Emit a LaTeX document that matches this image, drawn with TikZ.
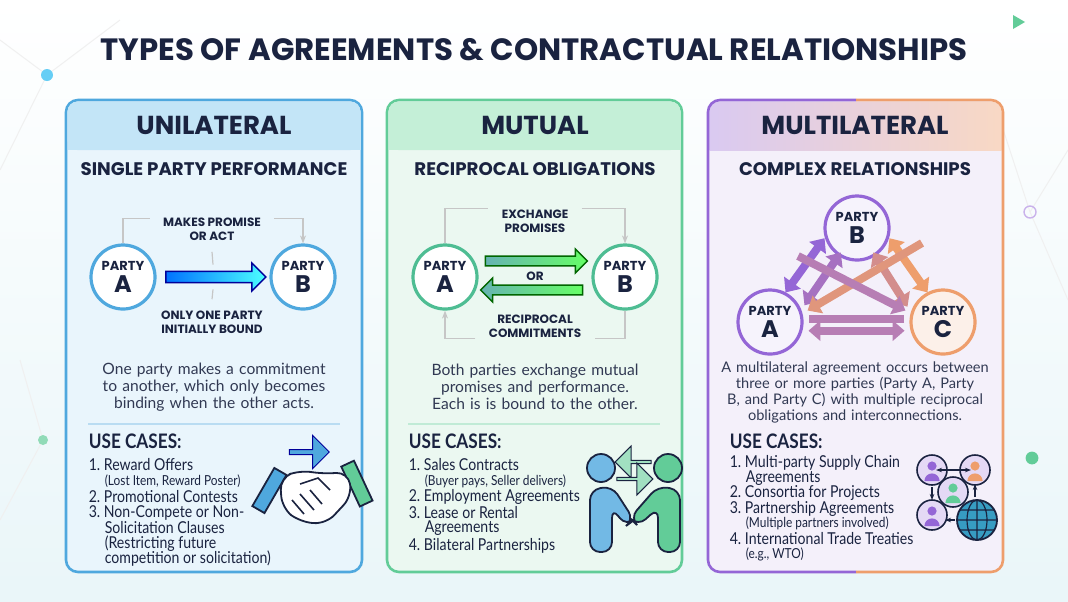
\documentclass[tikz,border=0pt]{standalone}
\usepackage{fontspec}
\setmainfont{Lato}
\newfontfamily\headfont{Poppins}
\newfontfamily\condfont{Lato}[FakeStretch=0.86]
\usetikzlibrary{positioning, calc, shapes.arrows, arrows.meta}

\definecolor{navy}{HTML}{1A2340}
\definecolor{ublue}{HTML}{4FA8DE}
\definecolor{ufill}{HTML}{E9F5FC}
\definecolor{uhead}{HTML}{C3E5F7}
\definecolor{mgreen}{HTML}{62CC98}
\definecolor{mfill}{HTML}{EBF8F1}
\definecolor{mhead}{HTML}{C4EFD7}
\definecolor{lpurp}{HTML}{9466D6}
\definecolor{lorng}{HTML}{EE9E6C}
\definecolor{lfill}{HTML}{F4F0FA}
\definecolor{lmix}{HTML}{B77EB4}

\begin{document}
\begin{tikzpicture}[x=0.5pt, y=-0.5pt, thick]
            % Define styles
            \tikzstyle{party} = [circle, line width=1.6pt, minimum size=32pt, inner sep=0pt, align=center, text=navy, font=\headfont\bfseries]
            \tikzstyle{lbl} = [align=center, text=navy, font=\headfont\bfseries\fontsize{6}{7}\selectfont]
            \tikzstyle{link} = [draw=gray!45, line width=0.6pt]
            \tikzstyle{desc} = [align=center, text=navy!90, text width=134pt, execute at begin node={\hyphenpenalty=10000}, font=\fontsize{7.8}{8.6}\selectfont]
            \tikzstyle{it} = [anchor=west, inner sep=0pt, text=navy, font=\condfont\fontsize{8.2}{8}\selectfont]
            \tikzstyle{sub} = [anchor=west, inner sep=0pt, text=navy, font=\condfont\fontsize{6.9}{7}\selectfont]
            \tikzstyle{uses} = [anchor=west, inner sep=0pt, text=navy, font=\condfont\bfseries\fontsize{10}{10}\selectfont]
            \tikzstyle{head} = [text=navy, font=\headfont\bfseries\fontsize{13}{13}\selectfont]
            \tikzstyle{subhead} = [text=navy, font=\headfont\bfseries\fontsize{9.1}{10}\selectfont]
            \tikzstyle{fat} = [line width=4pt, {Triangle[length=6pt,width=10pt]}-{Triangle[length=6pt,width=10pt]}]

            % Background
            \useasboundingbox (0,0) rectangle (1068,601);
            \fill[top color=white, bottom color=ufill!70!mfill] (0,0) rectangle (1068,601);
            \draw[gray!12, line width=0.5pt] (0,170) -- (47,75) -- (120,20) (47,75) -- (0,40) (1068,150) -- (1030,212) -- (1068,300) (1030,212) -- (1000,120) (43,440) -- (0,520) (43,440) -- (20,360);
            \fill[cyan!60] (47,75) circle (3pt);
            \fill[mgreen] (1032,458) circle (3.2pt);
            \fill[mgreen!70] (43,440) circle (2.5pt);
            \draw[lpurp!50, line width=0.7pt] (1030,212) circle (3pt);
            \fill[mgreen] (1013,15) -- (1025,22) -- (1013,29) -- cycle;

            % Title
            \node[text=navy, font=\headfont\bfseries\fontsize{15.4}{16}\selectfont] (title) at (534,50) {TYPES OF AGREEMENTS \& CONTRACTUAL RELATIONSHIPS};

            % Panels
            \fill[ufill, draw=ublue, line width=1.3pt, rounded corners=6pt] (66,100) rectangle (362,572);
            \fill[uhead, rounded corners=5pt] (67.5,101.5) rectangle (360.5,150);
            \fill[uhead] (67.5,130) rectangle (360.5,150);
            \fill[mfill, draw=mgreen, line width=1.3pt, rounded corners=6pt] (387,100) rectangle (682,572);
            \fill[mhead, rounded corners=5pt] (388.5,101.5) rectangle (680.5,150);
            \fill[mhead] (388.5,130) rectangle (680.5,150);
            \fill[lfill, rounded corners=6pt] (708,100) rectangle (1003,572);
            \shade[left color=lpurp!35, right color=lorng!40, rounded corners=5pt] (709.5,101.5) rectangle (1001.5,150);
            \shade[left color=lpurp!35, right color=lorng!40] (709.5,130) rectangle (1001.5,150);
            \draw[line width=1.3pt, lpurp, rounded corners=6pt] (856,572) -| (708,100) -- (856,100);
            \draw[line width=1.3pt, lorng, rounded corners=6pt] (856,100) -| (1003,572) -- (856,572);
            \draw[ublue!40, line width=0.6pt] (88,424) -- (340,424);
            \draw[mgreen!40, line width=0.6pt] (408,424) -- (660,424);

            % Headings
            \node[head] (h1) at (214,125) {UNILATERAL};
            \node[head] (h2) at (535,125) {MUTUAL};
            \node[head] (h3) at (855,125) {MULTILATERAL};
            \node[subhead] (s1) at (214,169) {SINGLE PARTY PERFORMANCE};
            \node[subhead] (s2) at (535,169) {RECIPROCAL OBLIGATIONS};
            \node[subhead] (s3) at (855,169) {COMPLEX RELATIONSHIPS};

            % Unilateral diagram
            \node[party, draw=ublue, fill=white] (ua) at (123,277) {\fontsize{6.5}{7}\selectfont PARTY\\[-1pt]\fontsize{12}{12}\selectfont A};
            \node[party, draw=ublue, fill=white] (ub) at (303,277) {\fontsize{6.5}{7}\selectfont PARTY\\[-1pt]\fontsize{12}{12}\selectfont B};
            \node[single arrow, draw=blue!60!black, line width=0.7pt, left color=blue!55!cyan, right color=cyan!70, minimum width=14pt, single arrow head extend=2pt, minimum height=50pt, inner sep=1pt] (uarr) at (213,277) {};
            \node[lbl] (umk) at (212,229) {MAKES PROMISE\\OR ACT};
            \node[lbl] (uon) at (212,322) {ONLY ONE PARTY\\INITIALLY BOUND};
            \draw[link] (ua.north) |- ([xshift=-3pt,yshift=-4pt]umk.north west);
            \draw[link, -{Stealth[length=4pt]}] ([xshift=3pt,yshift=-4pt]umk.north east) -| (ub.north);
            \draw[link] ([yshift=-2pt]umk.south) -- ([yshift=3pt]uarr.north);
            \draw[link] ([yshift=-3pt]uarr.south) -- ([yshift=2pt]uon.north);

            % Mutual diagram
            \node[party, draw=mgreen!80!teal, fill=white] (ma) at (445,277) {\fontsize{6.5}{7}\selectfont PARTY\\[-1pt]\fontsize{12}{12}\selectfont A};
            \node[party, draw=mgreen!80!teal, fill=white] (mb) at (625,277) {\fontsize{6.5}{7}\selectfont PARTY\\[-1pt]\fontsize{12}{12}\selectfont B};
            \node[single arrow, draw=green!40!black, line width=0.7pt, left color=teal!60, right color=green!60, minimum width=12pt, single arrow head extend=2pt, minimum height=51pt, inner sep=1pt] (marr1) at (534,261) {};
            \node[single arrow, shape border rotate=180, draw=green!40!black, line width=0.7pt, left color=teal!60, right color=green!60, minimum width=12pt, single arrow head extend=2pt, minimum height=51pt, inner sep=1pt] (marr2) at (534,290) {};
            \node[lbl] (mor) at (535,276) {OR};
            \node[lbl] (mex) at (535,221) {EXCHANGE\\PROMISES};
            \node[lbl] (mrc) at (535,326) {RECIPROCAL\\COMMITMENTS};
            \draw[link] (ma.north) |- ([xshift=-3pt,yshift=-3pt]mex.north west);
            \draw[link, -{Stealth[length=4pt]}] ([xshift=3pt,yshift=-3pt]mex.north east) -| (mb.north);
            \draw[link] (mb.south) |- ([xshift=3pt,yshift=3pt]mrc.south east);
            \draw[link, -{Stealth[length=4pt]}] ([xshift=-3pt,yshift=3pt]mrc.south west) -| (ma.south);

            % Multilateral diagram
            \node[party, draw=lpurp, fill=lpurp!8] (lb) at (857,228) {\fontsize{6.5}{7}\selectfont PARTY\\[-1pt]\fontsize{12}{12}\selectfont B};
            \node[party, draw=lpurp, fill=lpurp!8] (la) at (770,322) {\fontsize{6.5}{7}\selectfont PARTY\\[-1pt]\fontsize{12}{12}\selectfont A};
            \node[party, draw=lorng, fill=lorng!15] (lc) at (943,322) {\fontsize{6.5}{7}\selectfont PARTY\\[-1pt]\fontsize{12}{12}\selectfont C};
            \coordinate (lxo) at (922,243);
            \coordinate (lxp) at (798,256);
            \draw[fat, lpurp] ([shift={(2pt,-1pt)}]la.70) -- ([shift={(-1pt,2pt)}]lb.205);
            \draw[fat, lpurp!80!lorng] ([shift={(4pt,-2pt)}]la.38) -- ([shift={(-1pt,3pt)}]lb.245);
            \draw[fat, lorng] ([shift={(1pt,2pt)}]lb.335) -- ([shift={(-2pt,-1pt)}]lc.110);
            \draw[fat, lorng!70!lpurp] ([shift={(1pt,3pt)}]lb.295) -- ([shift={(-4pt,-2pt)}]lc.145);
            \draw[line width=4pt, lorng!85!lpurp, -{Triangle[length=6pt,width=10pt]}] (lxo) -- ([xshift=3pt]la.20);
            \draw[line width=4pt, lmix, -{Triangle[length=6pt,width=10pt]}] (lxp) -- ([xshift=-3pt]lc.160);
            \draw[line width=4pt, lmix] ([xshift=3pt]la.5) -- ([xshift=-3pt]lc.175);
            \draw[fat, lmix] ([xshift=3pt]la.-15) -- ([xshift=-3pt]lc.195);

            % Descriptions
            \node[desc] (d1) at (214,387) {One party makes a commitment to another, which only becomes binding when the other acts.};
            \node[desc] (d2) at (535,387) {Both parties exchange mutual promises and performance. Each is is bound to the other.};
            \node[desc, text width=136pt, font=\fontsize{7.3}{8}\selectfont] (d3) at (855,392) {A multilateral agreement occurs between three or more parties (Party A, Party B, and Party C) with multiple reciprocal obligations and interconnections.};

            % Use cases
            \node[uses] (u1) at (88,441) {USE CASES:};
            \node[uses] (u2) at (408,441) {USE CASES:};
            \node[uses] (u3) at (729,441) {USE CASES:};
            \foreach \y/\t/\st [count=\i] in {465/{1.\ Reward Offers}/it, 481/{\hspace{8pt}(Lost Item, Reward Poster)}/sub, 497/{2.\ Promotional Contests}/it, 513/{3.\ Non-Compete or Non-}/it, 528/{\hspace{8pt}Solicitation Clauses}/it, 544/{\hspace{8pt}(Restricting future}/it, 559/{\hspace{8pt}competition or solicitation)}/it}
                \node[\st] (ua\i) at (88,\y) {\t};
            \foreach \y/\t/\st [count=\i] in {465/{1.\ Sales Contracts}/it, 481/{\hspace{8pt}(Buyer pays, Seller delivers)}/sub, 497/{2.\ Employment Agreements}/it, 513/{3.\ Lease or Rental}/it, 528/{\hspace{8pt}Agreements}/it, 546/{4.\ Bilateral Partnerships}/it}
                \node[\st] (mu\i) at (408,\y) {\t};
            \foreach \y/\t/\st [count=\i] in {463/{1.\ Multi-party Supply Chain}/it, 478/{\hspace{8pt}Agreements}/it, 493/{2.\ Consortia for Projects}/it, 509/{3.\ Partnership Agreements}/it, 523/{\hspace{8pt}(Multiple partners involved)}/sub, 539/{4.\ International Trade Treaties}/it, 554/{\hspace{8pt}(e.g., WTO)}/sub}
                \node[\st] (lu\i) at (729,\y) {\t};

            % Handshake icon
            \node[single arrow, fill=ublue, draw=blue!60!black, line width=0.5pt, minimum width=9pt, minimum height=20pt, inner sep=1pt] (hsarr) at (308,452) {};
            \draw[navy, line width=0.9pt, fill=ublue, rotate around={-30:(272,492)}] (262,470) rectangle (276,514);
            \draw[navy, line width=0.9pt, fill=mgreen, rotate around={25:(356,484)}] (350,462) rectangle (364,506);
            \draw[navy, line width=0.9pt, fill=white, rounded corners=6pt] (280,478) -- (300,470) -- (322,474) -- (348,472) -- (352,496) -- (326,524) -- (300,522) -- (282,508) -- cycle;
            \draw[navy, line width=0.8pt] (300,484) -- (318,478) -- (330,490) (292,500) -- (304,514) (300,494) -- (314,510) (310,490) -- (322,504);

            % People icon
            \draw[navy, line width=0.9pt, fill=ublue!80] (601,468) circle (7pt);
            \draw[navy, line width=0.9pt, fill=ublue!80, rounded corners=5pt] (590,552) -- (590,490) -- (612,486) -- (634,520) -- (626,526) -- (612,508) -- (612,552) -- cycle;
            \draw[navy, line width=0.9pt, fill=mgreen] (668,468) circle (7pt);
            \draw[navy, line width=0.9pt, fill=mgreen, rounded corners=5pt] (680,552) -- (680,490) -- (658,486) -- (630,518) -- (638,526) -- (658,508) -- (658,552) -- cycle;
            \node[single arrow, shape border rotate=180, fill=mgreen!60, draw=navy, line width=0.5pt, minimum width=8pt, minimum height=18pt, inner sep=0.6pt] (pparr1) at (634,462) {};
            \node[single arrow, fill=mgreen!60, draw=navy, line width=0.5pt, minimum width=8pt, minimum height=18pt, inner sep=0.6pt] (pparr2) at (634,479) {};

            % Network icon
            \foreach \x/\y/\c [count=\i] in {932/470/lpurp, 975/470/lorng, 953/492/mgreen, 932/515/lpurp}
            {
                \draw[navy, line width=0.8pt, fill=lpurp!25] (\x,\y) circle (7.5pt);
                \fill[\c] (\x,\y-4) circle (2.3pt);
                \fill[\c] ([shift={(-3.8pt,-5.5pt)}]\x,\y) arc (180:0:3.8pt) -- cycle;
                \coordinate (nw\i) at (\x,\y);
            }
            \draw[navy, line width=0.9pt, fill=ublue!70!teal] (977,520) circle (10pt) coordinate (glb);
            \draw[navy, line width=0.6pt] (957,520) -- (997,520) (977,500) -- (977,540) (977,500) arc (90:270:5pt and 10pt) (977,500) arc (90:-90:5pt and 10pt) (960,510) -- (994,510) (960,530) -- (994,530);
            \draw[navy, line width=0.7pt, {Stealth[length=3pt]}-{Stealth[length=3pt]}] ([xshift=2pt]nw1.east) -- ([xshift=-2pt]nw2.west);
            \draw[navy, line width=0.7pt, -{Stealth[length=3pt]}] (932,487) -- (932,500);
            \draw[navy, line width=0.7pt, -{Stealth[length=3pt]}] (975,497) -- (975,484);
            \draw[navy, line width=0.7pt, -{Stealth[length=3pt]}] (955,520) -- (945,520);

        \end{tikzpicture}
\end{document}
